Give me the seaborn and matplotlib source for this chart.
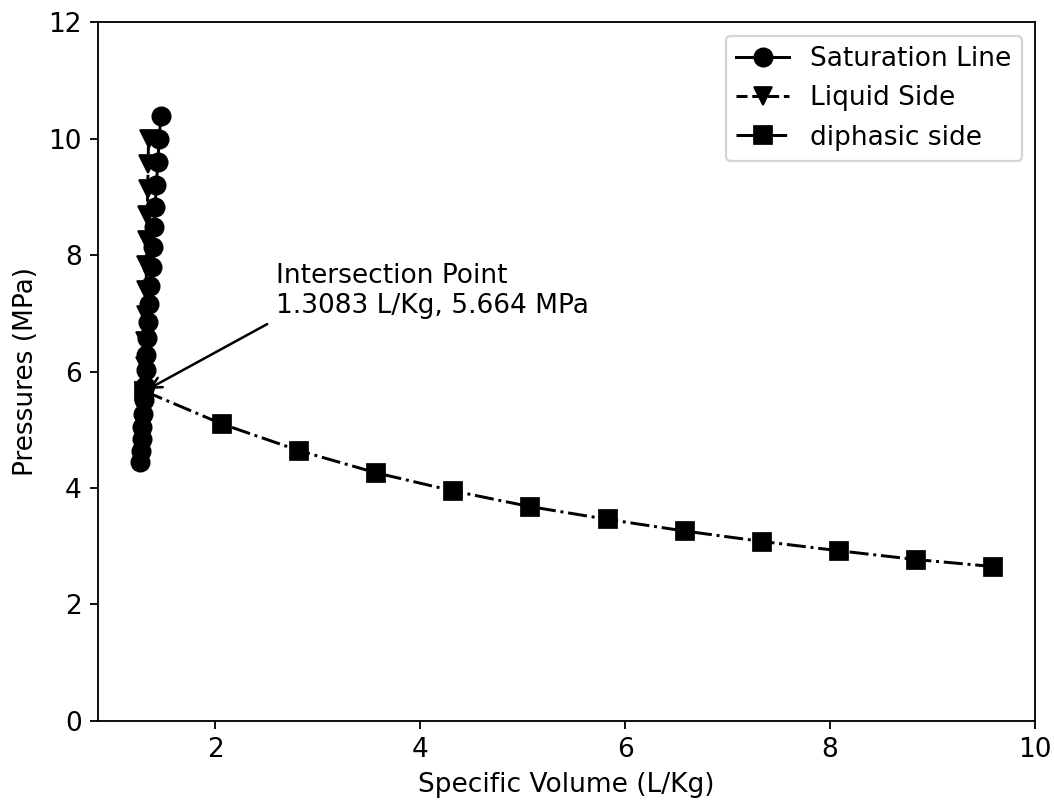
import matplotlib
matplotlib.use("Agg")
import matplotlib.pyplot as plt
import seaborn as sns
import pandas as pd

# Saturation line (circles)
sat_v = [1.268, 1.274, 1.281, 1.288, 1.295, 1.303, 1.311, 1.319, 1.328, 1.337, 1.347,
         1.357, 1.367, 1.378, 1.389, 1.400, 1.412, 1.425, 1.438, 1.453, 1.467]
sat_p = [4.45, 4.64, 4.84, 5.05, 5.27, 5.51, 5.76, 6.02, 6.29, 6.57, 6.86,
         7.16, 7.47, 7.80, 8.14, 8.48, 8.83, 9.20, 9.60, 10.00, 10.39]

# Liquid side (triangles)
liq_v = [1.3083, 1.312, 1.316, 1.320, 1.324, 1.328, 1.332, 1.336, 1.340, 1.344, 1.348]
liq_p = [5.664, 6.098, 6.531, 6.965, 7.398, 7.832, 8.266, 8.699, 9.133, 9.566, 10.00]

# Diphasic side (squares)
dip_v = [1.3083, 2.065, 2.82, 3.57, 4.32, 5.07, 5.83, 6.58, 7.34, 8.09, 8.84, 9.59]
dip_p = [5.664, 5.10, 4.64, 4.26, 3.95, 3.68, 3.46, 3.26, 3.08, 2.92, 2.77, 2.65]

labels = ["Saturation Line", "Liquid Side", "diphasic side"]
inter_v, inter_p = 1.3083, 5.664

plt.rcParams['font.family'] = ['DejaVu Sans']
plt.rcParams['font.size'] = 11.5

fig = plt.figure(figsize=(1054 / 165, 801 / 165), dpi=165)
ax = fig.add_axes([0.0927, 0.1002, 0.982 - 0.0927, 0.972 - 0.1002])

sns.lineplot(x=sat_v, y=sat_p, ax=ax, color='black', marker='o', markersize=8,
             linestyle='-', lw=1.3, sort=False, estimator=None, zorder=3,
             markeredgecolor='black')
sns.lineplot(x=liq_v, y=liq_p, ax=ax, color='black', marker='v', markersize=8,
             linestyle='--', lw=1.3, sort=False, estimator=None, zorder=2,
             markeredgecolor='black')
sns.lineplot(x=dip_v, y=dip_p, ax=ax, color='black', marker='s', markersize=8,
             linestyle='-.', lw=1.3, sort=False, estimator=None, zorder=4,
             markeredgecolor='black')

lines = ax.get_lines()
ax.legend(lines[:3], labels, loc='upper right')

ax.annotate("Intersection Point\n1.3083 L/Kg, 5.664 MPa", xy=(inter_v, inter_p),
            xytext=(2.59, 7.0), fontsize=11.5,
            arrowprops=dict(arrowstyle='->', color='black', lw=1.1, relpos=(0, 0)))

ax.set_ylim(0, 12)
ax.set_xlim(0.852, 10.0)
ax.set_xlabel("Specific Volume (L/Kg)")
ax.set_ylabel("Pressures (MPa)")

fig.savefig("out.png", dpi=165)
